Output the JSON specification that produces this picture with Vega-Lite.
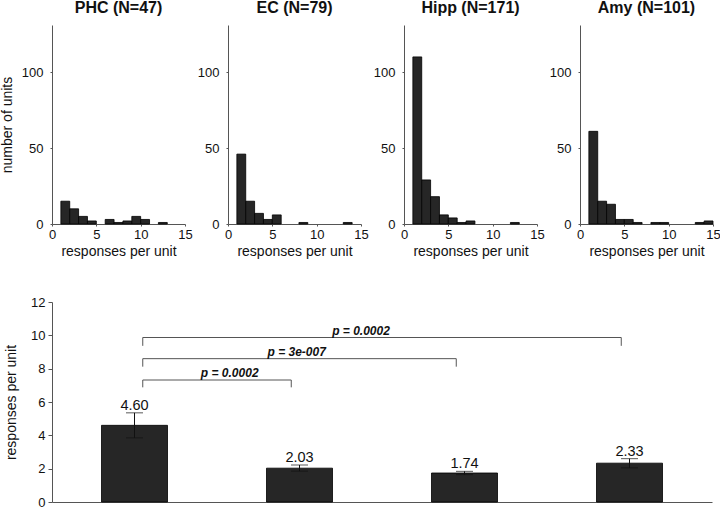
{
  "$schema": "https://vega.github.io/schema/vega-lite/v6.json",
  "background": "white",
  "padding": {"left": 0, "top": 0, "right": 2, "bottom": 0},
  "config": {
    "font": "Liberation Sans",
    "view": {"stroke": null},
    "scale": {"continuousPadding": 0},
    "axis": {"grid": false, "domainColor": "#555", "tickColor": "#555", "labelColor": "#111", "titleColor": "#111", "labelFontSize": 13, "titleFontSize": 14, "titleFontWeight": "normal", "labelFont": "Liberation Sans", "titleFont": "Liberation Sans", "labelOverlap": false},
    "title": {"font": "Liberation Sans", "fontSize": 16, "fontWeight": "bold", "color": "#111", "frame": "group", "anchor": "middle", "offset": 9}
  },
  "datasets": {
    "hist": [
      {"region": "PHC", "start": 1, "end": 2, "count": 15},
      {"region": "PHC", "start": 2, "end": 3, "count": 10},
      {"region": "PHC", "start": 3, "end": 4, "count": 5},
      {"region": "PHC", "start": 4, "end": 5, "count": 2},
      {"region": "PHC", "start": 6, "end": 7, "count": 3},
      {"region": "PHC", "start": 7, "end": 8, "count": 1},
      {"region": "PHC", "start": 8, "end": 9, "count": 2},
      {"region": "PHC", "start": 9, "end": 10, "count": 5},
      {"region": "PHC", "start": 10, "end": 11, "count": 3},
      {"region": "PHC", "start": 12, "end": 13, "count": 1},
      {"region": "EC", "start": 1, "end": 2, "count": 46},
      {"region": "EC", "start": 2, "end": 3, "count": 15},
      {"region": "EC", "start": 3, "end": 4, "count": 7},
      {"region": "EC", "start": 4, "end": 5, "count": 3},
      {"region": "EC", "start": 5, "end": 6, "count": 6},
      {"region": "EC", "start": 8, "end": 9, "count": 1},
      {"region": "EC", "start": 13, "end": 14, "count": 1},
      {"region": "Hipp", "start": 1, "end": 2, "count": 110},
      {"region": "Hipp", "start": 2, "end": 3, "count": 29},
      {"region": "Hipp", "start": 3, "end": 4, "count": 18},
      {"region": "Hipp", "start": 4, "end": 5, "count": 6},
      {"region": "Hipp", "start": 5, "end": 6, "count": 4},
      {"region": "Hipp", "start": 6, "end": 7, "count": 1},
      {"region": "Hipp", "start": 7, "end": 8, "count": 2},
      {"region": "Hipp", "start": 12, "end": 13, "count": 1},
      {"region": "Amy", "start": 1, "end": 2, "count": 61},
      {"region": "Amy", "start": 2, "end": 3, "count": 15},
      {"region": "Amy", "start": 3, "end": 4, "count": 13},
      {"region": "Amy", "start": 4, "end": 5, "count": 3},
      {"region": "Amy", "start": 5, "end": 6, "count": 3},
      {"region": "Amy", "start": 6, "end": 7, "count": 1},
      {"region": "Amy", "start": 8, "end": 9, "count": 1},
      {"region": "Amy", "start": 9, "end": 10, "count": 1},
      {"region": "Amy", "start": 13, "end": 14, "count": 1},
      {"region": "Amy", "start": 14, "end": 15, "count": 2}
    ],
    "bars": [
      {"region": "PHC", "center": 0.5, "mean": 4.60, "lo": 3.85, "hi": 5.35},
      {"region": "EC", "center": 1.5, "mean": 2.03, "lo": 1.85, "hi": 2.22},
      {"region": "Hipp", "center": 2.5, "mean": 1.74, "lo": 1.64, "hi": 1.84},
      {"region": "Amy", "center": 3.5, "mean": 2.33, "lo": 2.05, "hi": 2.6}
    ],
    "brackets": [
      {"x1": 0.55, "x2": 1.45, "y": 7.32, "yd": 6.88, "p": "p = 0.0002", "lx": 1.077},
      {"x1": 0.55, "x2": 2.45, "y": 8.6, "yd": 8.12, "p": "p = 3e-007", "lx": 1.483},
      {"x1": 0.55, "x2": 3.45, "y": 9.87, "yd": 9.37, "p": "p = 0.0002", "lx": 1.873}
    ]
  },
  "vconcat": [
    {
      "hconcat": [
        {
          "title": "PHC (N=47)",
          "width": 133, "height": 199,
          "data": {"name": "hist"},
          "transform": [{"filter": "datum.region === 'PHC'"}],
          "mark": {"type": "bar", "fill": "#262626", "stroke": "#000", "strokeWidth": 0.8},
          "encoding": {
            "x": {"field": "start", "type": "quantitative", "scale": {"domain": [0, 15], "nice": false, "padding": 0}, "axis": {"values": [0, 5, 10, 15], "title": "responses per unit", "tickSize": 2, "labelPadding": 2, "titlePadding": 3, "labelFlush": false}},
            "x2": {"field": "end"},
            "y": {"field": "count", "type": "quantitative", "scale": {"domain": [0, 131], "nice": false, "padding": 0}, "axis": {"values": [0, 50, 100], "title": "number of units", "tickSize": 2, "labelPadding": 7, "titlePadding": 7}},
            "y2": {"datum": 0}
          }
        },
        {
          "title": "EC (N=79)",
          "width": 133, "height": 199,
          "data": {"name": "hist"},
          "transform": [{"filter": "datum.region === 'EC'"}],
          "mark": {"type": "bar", "fill": "#262626", "stroke": "#000", "strokeWidth": 0.8},
          "encoding": {
            "x": {"field": "start", "type": "quantitative", "scale": {"domain": [0, 15], "nice": false, "padding": 0}, "axis": {"values": [0, 5, 10, 15], "title": "responses per unit", "tickSize": 2, "labelPadding": 2, "titlePadding": 3, "labelFlush": false}},
            "x2": {"field": "end"},
            "y": {"field": "count", "type": "quantitative", "scale": {"domain": [0, 131], "nice": false, "padding": 0}, "axis": {"values": [0, 50, 100], "title": null, "tickSize": 2, "labelPadding": 7}},
            "y2": {"datum": 0}
          }
        },
        {
          "title": "Hipp (N=171)",
          "width": 133, "height": 199,
          "data": {"name": "hist"},
          "transform": [{"filter": "datum.region === 'Hipp'"}],
          "mark": {"type": "bar", "fill": "#262626", "stroke": "#000", "strokeWidth": 0.8},
          "encoding": {
            "x": {"field": "start", "type": "quantitative", "scale": {"domain": [0, 15], "nice": false, "padding": 0}, "axis": {"values": [0, 5, 10, 15], "title": "responses per unit", "tickSize": 2, "labelPadding": 2, "titlePadding": 3, "labelFlush": false}},
            "x2": {"field": "end"},
            "y": {"field": "count", "type": "quantitative", "scale": {"domain": [0, 131], "nice": false, "padding": 0}, "axis": {"values": [0, 50, 100], "title": null, "tickSize": 2, "labelPadding": 7}},
            "y2": {"datum": 0}
          }
        },
        {
          "title": "Amy (N=101)",
          "width": 133, "height": 199,
          "data": {"name": "hist"},
          "transform": [{"filter": "datum.region === 'Amy'"}],
          "mark": {"type": "bar", "fill": "#262626", "stroke": "#000", "strokeWidth": 0.8},
          "encoding": {
            "x": {"field": "start", "type": "quantitative", "scale": {"domain": [0, 15], "nice": false, "padding": 0}, "axis": {"values": [0, 5, 10, 15], "title": "responses per unit", "tickSize": 2, "labelPadding": 2, "titlePadding": 3, "labelFlush": false}},
            "x2": {"field": "end"},
            "y": {"field": "count", "type": "quantitative", "scale": {"domain": [0, 131], "nice": false, "padding": 0}, "axis": {"values": [0, 50, 100], "title": null, "tickSize": 2, "labelPadding": 7}},
            "y2": {"datum": 0}
          }
        }
      ],
      "spacing": 4,
      "align": "none"
    },
    {
      "width": 660, "height": 200,
      "layer": [
        {
          "data": {"name": "bars"},
          "mark": {"type": "bar", "width": 66, "fill": "#262626", "stroke": "#000", "strokeWidth": 0.8},
          "encoding": {
            "x": {"field": "center", "type": "quantitative", "scale": {"domain": [0, 4], "nice": false, "padding": 0}, "axis": {"title": null, "labels": false, "ticks": false, "grid": false}},
            "y": {"field": "mean", "type": "quantitative", "scale": {"domain": [0, 12], "nice": false, "padding": 0}, "axis": {"values": [0, 2, 4, 6, 8, 10, 12], "labelOverlap": false, "title": "responses per unit", "tickSize": 4, "labelPadding": 3, "titlePadding": 12}}
          }
        },
        {
          "data": {"name": "bars"},
          "mark": {"type": "rule", "color": "#111", "strokeWidth": 1},
          "encoding": {
            "x": {"field": "center", "type": "quantitative", "axis": {"title": null, "labels": false, "ticks": false, "grid": false}},
            "y": {"field": "lo", "type": "quantitative", "axis": {"values": [0, 2, 4, 6, 8, 10, 12], "labelOverlap": false, "title": "responses per unit", "tickSize": 4, "labelPadding": 3, "titlePadding": 12}},
            "y2": {"field": "hi"}
          }
        },
        {
          "data": {"name": "bars"},
          "mark": {"type": "tick", "orient": "horizontal", "size": 17, "thickness": 1, "color": "#111"},
          "encoding": {
            "x": {"field": "center", "type": "quantitative", "axis": {"title": null, "labels": false, "ticks": false, "grid": false}},
            "y": {"field": "hi", "type": "quantitative", "axis": {"values": [0, 2, 4, 6, 8, 10, 12], "labelOverlap": false, "title": "responses per unit", "tickSize": 4, "labelPadding": 3, "titlePadding": 12}}
          }
        },
        {
          "data": {"name": "bars"},
          "mark": {"type": "tick", "orient": "horizontal", "size": 17, "thickness": 1, "color": "#111"},
          "encoding": {
            "x": {"field": "center", "type": "quantitative", "axis": {"title": null, "labels": false, "ticks": false, "grid": false}},
            "y": {"field": "lo", "type": "quantitative", "axis": {"values": [0, 2, 4, 6, 8, 10, 12], "labelOverlap": false, "title": "responses per unit", "tickSize": 4, "labelPadding": 3, "titlePadding": 12}}
          }
        },
        {
          "data": {"name": "bars"},
          "mark": {"type": "text", "baseline": "alphabetic", "dy": -3, "fontSize": 14.5, "color": "#111"},
          "encoding": {
            "x": {"field": "center", "type": "quantitative", "axis": {"title": null, "labels": false, "ticks": false, "grid": false}},
            "y": {"field": "hi", "type": "quantitative", "axis": {"values": [0, 2, 4, 6, 8, 10, 12], "labelOverlap": false, "title": "responses per unit", "tickSize": 4, "labelPadding": 3, "titlePadding": 12}},
            "text": {"field": "mean", "type": "quantitative", "format": ".2f"}
          }
        },
        {
          "data": {"name": "brackets"},
          "mark": {"type": "rule", "color": "#555", "strokeWidth": 1},
          "encoding": {
            "x": {"field": "x1", "type": "quantitative", "axis": {"title": null, "labels": false, "ticks": false, "grid": false}},
            "x2": {"field": "x2"},
            "y": {"field": "y", "type": "quantitative", "axis": {"values": [0, 2, 4, 6, 8, 10, 12], "labelOverlap": false, "title": "responses per unit", "tickSize": 4, "labelPadding": 3, "titlePadding": 12}}
          }
        },
        {
          "data": {"name": "brackets"},
          "mark": {"type": "rule", "color": "#555", "strokeWidth": 1},
          "encoding": {
            "x": {"field": "x1", "type": "quantitative", "axis": {"title": null, "labels": false, "ticks": false, "grid": false}},
            "y": {"field": "yd", "type": "quantitative", "axis": {"values": [0, 2, 4, 6, 8, 10, 12], "labelOverlap": false, "title": "responses per unit", "tickSize": 4, "labelPadding": 3, "titlePadding": 12}},
            "y2": {"field": "y"}
          }
        },
        {
          "data": {"name": "brackets"},
          "mark": {"type": "rule", "color": "#555", "strokeWidth": 1},
          "encoding": {
            "x": {"field": "x2", "type": "quantitative", "axis": {"title": null, "labels": false, "ticks": false, "grid": false}},
            "y": {"field": "yd", "type": "quantitative", "axis": {"values": [0, 2, 4, 6, 8, 10, 12], "labelOverlap": false, "title": "responses per unit", "tickSize": 4, "labelPadding": 3, "titlePadding": 12}},
            "y2": {"field": "y"}
          }
        },
        {
          "data": {"name": "brackets"},
          "mark": {"type": "text", "baseline": "alphabetic", "dy": -3, "fontSize": 12, "fontWeight": "bold", "fontStyle": "italic", "color": "#111"},
          "encoding": {
            "x": {"field": "lx", "type": "quantitative", "axis": {"title": null, "labels": false, "ticks": false, "grid": false}},
            "y": {"field": "y", "type": "quantitative", "axis": {"values": [0, 2, 4, 6, 8, 10, 12], "labelOverlap": false, "title": "responses per unit", "tickSize": 4, "labelPadding": 3, "titlePadding": 12}},
            "text": {"field": "p"}
          }
        }
      ]
    }
  ],
  "spacing": 38
}
